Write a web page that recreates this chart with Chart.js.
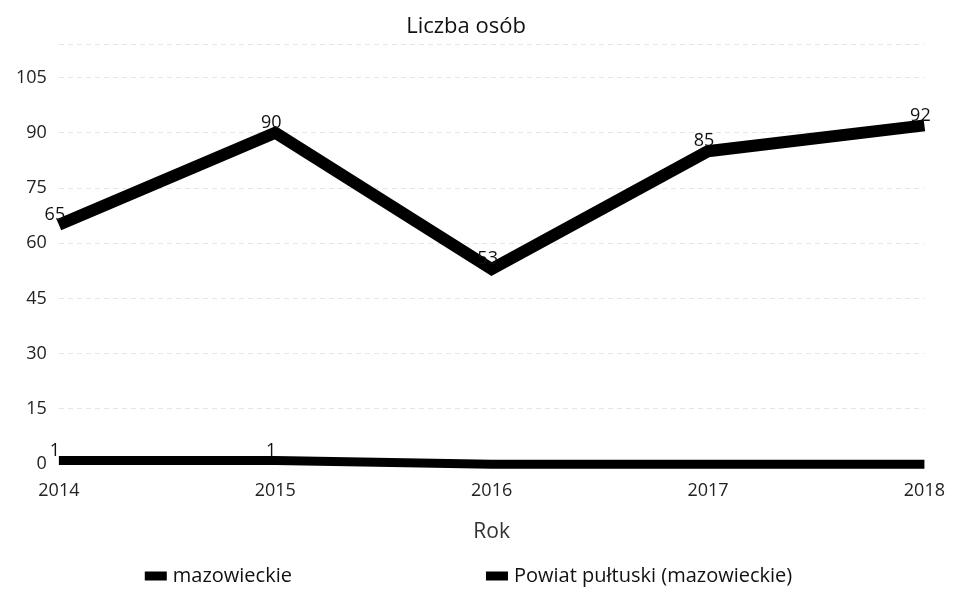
<!DOCTYPE html>
<html>
<head>
<meta charset="utf-8">
<script src="https://cdn.jsdelivr.net/npm/chart.js@4.4.0/dist/chart.umd.min.js"></script>
<style>
  body { margin: 0; background: #fff; }
  #wrap { width: 953px; height: 591px; }
</style>
</head>
<body>
<div id="wrap"><canvas id="lineChart"></canvas></div>
<script>
// chart data
var years = ["2014", "2015", "2016", "2017", "2018"];
var mazowieckie = [65, 90, 53, 85, 92];
var powiatPultuski = [1, 1, 0, 0, 0];
var yTicks = [0, 15, 30, 45, 60, 75, 90, 105];
var yMax = 114;

// draws the numbers above the points
var pointLabels = {
    id: "pointLabels",
    afterDatasetsDraw: function (chart) {
        var ctx = chart.ctx;
        ctx.save();
        ctx.font = "18px 'Open Sans'";
        ctx.fillStyle = "#111";
        ctx.textAlign = "center";
        ctx.textBaseline = "bottom";
        chart.data.datasets.forEach(function (ds, i) {
            var meta = chart.getDatasetMeta(i);
            meta.data.forEach(function (pt, j) {
                var v = ds.data[j];
                if (!v) return;
                ctx.fillText(String(v), pt.x - 4, pt.y - 1);
            });
        });
        ctx.restore();
    }
};

// legend with wide spacing between the two items
var wideLegend = {
    id: "wideLegend",
    afterDraw: function (chart) {
        var ctx = chart.ctx;
        var gap = 194, box = 22, boxH = 9, space = 6;
        ctx.save();
        ctx.font = "20px 'Open Sans'";
        ctx.textBaseline = "middle";
        var items = chart.data.datasets.map(function (ds) {
            return { text: ds.label, w: box + space + ctx.measureText(ds.label).width };
        });
        var total = items.reduce(function (s, it) { return s + it.w; }, 0) + gap * (items.length - 1);
        var x = (chart.width - total) / 2 - 8;
        var y = chart.height - 15;
        items.forEach(function (it) {
            ctx.fillStyle = "#000";
            ctx.fillRect(x, y - boxH / 2, box, boxH);
            ctx.fillStyle = "#111";
            ctx.fillText(it.text, x + box + space, y);
            x += it.w + gap;
        });
        ctx.restore();
    }
};

var ctx = document.getElementById("lineChart").getContext("2d");
new Chart(ctx, {
    type: "line",
    data: {
        labels: years,
        datasets: [
            {
                label: "mazowieckie",
                data: mazowieckie,
                borderColor: "#000",
                backgroundColor: "#000",
                borderWidth: 12,
                pointRadius: 0,
                fill: false,
                clip: false
            },
            {
                label: "Powiat pułtuski (mazowieckie)",
                data: powiatPultuski,
                borderColor: "#000",
                backgroundColor: "#000",
                borderWidth: 9,
                pointRadius: 0,
                fill: false,
                clip: false
            }
        ]
    },
    options: {
        responsive: true,
        maintainAspectRatio: false,
        animation: false,
        layout: { padding: { left: 4, right: 25, top: 6, bottom: 42 } },
        scales: {
            x: {
                offset: false,
                grid: { display: false },
                border: { display: false },
                ticks: {
                    color: "#222",
                    font: { family: "Open Sans", size: 18 },
                    padding: 8,
                    maxRotation: 0
                },
                title: {
                    display: true,
                    text: "Rok",
                    color: "#333",
                    font: { family: "Open Sans", size: 21 },
                    padding: { top: 10, bottom: 4 }
                }
            },
            y: {
                min: 0,
                max: yMax,
                afterBuildTicks: function (scale) {
                    scale.ticks = yTicks.concat([yMax]).map(function (v) { return { value: v }; });
                },
                grid: { color: "#e6e6e6", drawTicks: false },
                border: { display: false, dash: [5, 4] },
                ticks: {
                    color: "#222",
                    font: { family: "Open Sans", size: 18 },
                    padding: 12,
                    callback: function (v) { return yTicks.indexOf(v) >= 0 ? v : ""; }
                }
            }
        },
        plugins: {
            title: {
                display: true,
                text: "Liczba osób",
                color: "#111",
                font: { family: "Open Sans", size: 22, weight: "normal" },
                padding: { top: 8, bottom: 4 }
            },
            legend: { display: false },
            tooltip: { enabled: false }
        }
    },
    plugins: [pointLabels, wideLegend]
});
</script>
</body>
</html>
